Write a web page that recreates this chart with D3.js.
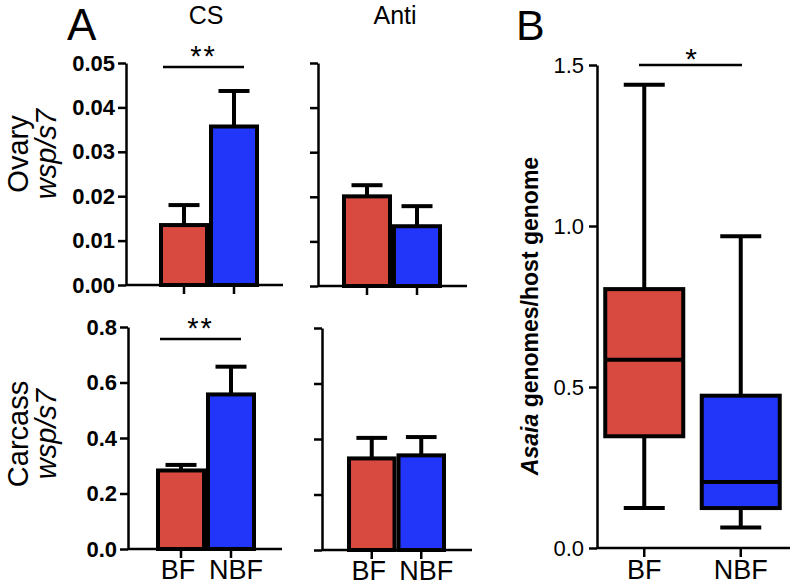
<!DOCTYPE html>
<html><head><meta charset="utf-8">
<script src="https://cdn.jsdelivr.net/npm/d3@7"></script>
<style>body{margin:0;background:#fff} text{font-family:"Liberation Sans",Arial,Helvetica,sans-serif;fill:#000}</style>
</head><body><svg id="c" width="795" height="586"></svg>
<script>
// ---- data ----
const groups = ["BF", "NBF"];
const groupColors = ["#D84A3F", "#2136F9"];
const ovaryCS = [0.0135, 0.0357];
const ovaryCSErr = [0.0180, 0.0437];
const ovaryAnti = [0.0201, 0.0134];
const ovaryAntiErr = [0.0226, 0.0179];
const carcassCS = [0.283, 0.557];
const carcassCSErr = [0.303, 0.657];
const carcassAnti = [0.330, 0.341];
const carcassAntiErr = [0.404, 0.407];
const ovaryTicks = [0, 0.01, 0.02, 0.03, 0.04, 0.05];
const carcassTicks = [0, 0.2, 0.4, 0.6, 0.8];
const boxTicks = [0, 0.5, 1.0, 1.5];
const boxMin = [0.124, 0.064];
const boxQ1 = [0.347, 0.124];
const boxMedian = [0.585, 0.205];
const boxQ3 = [0.804, 0.473];
const boxMax = [1.439, 0.968];

const svg = d3.select("#c");
const color = d3.scaleOrdinal().domain(groups).range(groupColors);
const labelShift = {BF: -3, NBF: 5};

function barPanel(o) {
  const g = svg.append("g");
  const y = d3.scaleLinear().domain([0, o.ticks[o.ticks.length - 1]]).range([o.yBot, o.yTop]);
  const x = d3.scaleBand().domain(groups).range([o.barL, o.barR]).paddingInner(0).paddingOuter(0);
  const bw = x.bandwidth();
  g.append("line").attr("x1", o.axisX).attr("x2", o.axisEnd).attr("y1", o.yBot).attr("y2", o.yBot)
    .attr("stroke", "#000").attr("stroke-width", 2.5);
  const xa = g.append("g").attr("transform", `translate(0,${o.yBot})`)
    .call(d3.axisBottom(x).tickSize(9).tickPadding(2).tickSizeOuter(0).tickFormat(o.xLabels ? d => d : () => ""));
  xa.select(".domain").remove();
  xa.selectAll("line").attr("stroke", "#000").attr("stroke-width", 2.5);
  xa.selectAll("text").attr("font-size", 27).attr("dx", d => labelShift[d])
    .attr("font-family", '"Liberation Sans",Arial,sans-serif').attr("fill", "#000");
  const ya = g.append("g").attr("transform", `translate(${o.axisX},0)`)
    .call(d3.axisLeft(y).tickValues(o.ticks).tickSize(8).tickPadding(3).tickSizeOuter(0)
      .tickFormat(o.tickLabels ? d3.format(o.fmt) : () => ""));
  ya.selectAll("line, path").attr("stroke", "#000").attr("stroke-width", 2.5);
  ya.selectAll("text").attr("font-size", 22).attr("font-weight", "bold")
    .attr("font-family", '"Liberation Sans",Arial,sans-serif').attr("fill", "#000");
  groups.forEach((grp, i) => {
    const cx = x(grp) + bw / 2;
    g.append("line").attr("x1", cx).attr("x2", cx).attr("y1", y(o.values[i])).attr("y2", y(o.errs[i]))
      .attr("stroke", "#000").attr("stroke-width", 4);
    g.append("line").attr("x1", cx - bw * 0.31).attr("x2", cx + bw * 0.31).attr("y1", y(o.errs[i])).attr("y2", y(o.errs[i]))
      .attr("stroke", "#000").attr("stroke-width", 4);
  });
  g.selectAll("rect.bar").data(groups).join("rect").attr("class", "bar")
    .attr("x", d => x(d) + 2).attr("width", bw - 4)
    .attr("y", (d, i) => y(o.values[i])).attr("height", (d, i) => o.yBot - y(o.values[i]))
    .attr("fill", d => color(d)).attr("stroke", "#000").attr("stroke-width", 4);
  if (o.sig) {
    g.append("line").attr("x1", x("BF") + 4).attr("x2", x("NBF") + bw - 15)
      .attr("y1", o.sigY).attr("y2", o.sigY).attr("stroke", "#000").attr("stroke-width", 2.5);
    g.append("text").attr("x", (x("BF") + x("NBF") + bw - 11) / 2).attr("y", o.sigY - 1)
      .attr("text-anchor", "middle").attr("font-size", 29).attr("letter-spacing", 2).text(o.sig);
  }
}

barPanel({axisX: 126, axisEnd: 283, barL: 159, barR: 259, yBot: 285, yTop: 63,
  ticks: ovaryTicks, fmt: ".2f", tickLabels: true, values: ovaryCS, errs: ovaryCSErr,
  xLabels: false, sig: "**", sigY: 67});
barPanel({axisX: 318, axisEnd: 467, barL: 342, barR: 442, yBot: 286, yTop: 63,
  ticks: ovaryTicks, fmt: ".2f", tickLabels: false, values: ovaryAnti, errs: ovaryAntiErr,
  xLabels: false});
barPanel({axisX: 128, axisEnd: 282, barL: 156, barR: 256, yBot: 549, yTop: 327,
  ticks: carcassTicks, fmt: ".1f", tickLabels: true, values: carcassCS, errs: carcassCSErr,
  xLabels: true, sig: "**", sigY: 339});
barPanel({axisX: 322, axisEnd: 472, barL: 347, barR: 446, yBot: 550, yTop: 328,
  ticks: carcassTicks, fmt: ".1f", tickLabels: false, values: carcassAnti, errs: carcassAntiErr,
  xLabels: true});

svg.append("text").attr("x", 67).attr("y", 40).attr("font-size", 44).text("A");
svg.append("text").attr("x", 206).attr("y", 24).attr("text-anchor", "middle").attr("font-size", 25).text("CS");
svg.append("text").attr("x", 395).attr("y", 24).attr("text-anchor", "middle").attr("font-size", 25).text("Anti");
function rowLabel(name, cy) {
  svg.append("text").attr("transform", `translate(28,${cy}) rotate(-90)`).attr("text-anchor", "middle")
    .attr("font-size", 29).text(name);
  svg.append("text").attr("transform", `translate(56,${cy}) rotate(-90)`).attr("text-anchor", "middle")
    .attr("font-size", 29).attr("font-style", "italic").text("wsp/s7");
}
rowLabel("Ovary", 154);
rowLabel("Carcass", 434);

// ---- panel B ----
const gB = svg.append("g");
const yB = d3.scaleLinear().domain([0, 1.5]).range([548, 65]);
const xB = d3.scaleBand().domain(groups).range([596, 789]);
const bwB = xB.bandwidth();
gB.append("line").attr("x1", 597).attr("x2", 790).attr("y1", yB(0)).attr("y2", yB(0))
  .attr("stroke", "#000").attr("stroke-width", 2.5);
const xaB = gB.append("g").attr("transform", `translate(0,${yB(0)})`)
  .call(d3.axisBottom(xB).tickSize(9).tickPadding(3).tickSizeOuter(0));
xaB.select(".domain").remove();
xaB.selectAll("line").attr("stroke", "#000").attr("stroke-width", 2.5);
xaB.selectAll("text").attr("font-size", 27).attr("font-family", '"Liberation Sans",Arial,sans-serif').attr("fill", "#000");
const yaB = gB.append("g").attr("transform", "translate(597,0)")
  .call(d3.axisLeft(yB).tickValues(boxTicks).tickSize(8).tickPadding(5).tickSizeOuter(0).tickFormat(d3.format(".1f")));
yaB.selectAll("line, path").attr("stroke", "#000").attr("stroke-width", 2.5);
yaB.selectAll("text").attr("font-size", 22).attr("font-family", '"Liberation Sans",Arial,sans-serif').attr("fill", "#000");

groups.forEach((grp, i) => {
  const cx = xB(grp) + bwB / 2;
  const boxW = 78, capW = 41;
  [[boxMax[i], boxQ3[i]], [boxQ1[i], boxMin[i]]].forEach(([a, b]) => {
    gB.append("line").attr("x1", cx).attr("x2", cx).attr("y1", yB(a)).attr("y2", yB(b))
      .attr("stroke", "#000").attr("stroke-width", 4);
  });
  [boxMax[i], boxMin[i]].forEach(v => {
    gB.append("line").attr("x1", cx - capW / 2).attr("x2", cx + capW / 2).attr("y1", yB(v)).attr("y2", yB(v))
      .attr("stroke", "#000").attr("stroke-width", 4);
  });
  gB.append("rect").attr("x", cx - boxW / 2).attr("width", boxW)
    .attr("y", yB(boxQ3[i])).attr("height", yB(boxQ1[i]) - yB(boxQ3[i]))
    .attr("fill", color(grp)).attr("stroke", "#000").attr("stroke-width", 4);
  gB.append("line").attr("x1", cx - boxW / 2).attr("x2", cx + boxW / 2)
    .attr("y1", yB(boxMedian[i])).attr("y2", yB(boxMedian[i])).attr("stroke", "#000").attr("stroke-width", 4);
});
gB.append("line").attr("x1", 639).attr("x2", 742).attr("y1", 65).attr("y2", 65).attr("stroke", "#000").attr("stroke-width", 2.5);
gB.append("text").attr("x", 691).attr("y", 69).attr("text-anchor", "middle").attr("font-size", 30).text("*");
svg.append("text").attr("x", 516).attr("y", 40).attr("font-size", 43).text("B");
const lab = svg.append("text").attr("transform", "translate(538,316) rotate(-90)").attr("text-anchor", "middle")
  .attr("font-size", 23).attr("font-weight", "bold");
lab.append("tspan").attr("font-style", "italic").text("Asaia");
lab.append("tspan").text(" genomes/host genome");
</script></body></html>
